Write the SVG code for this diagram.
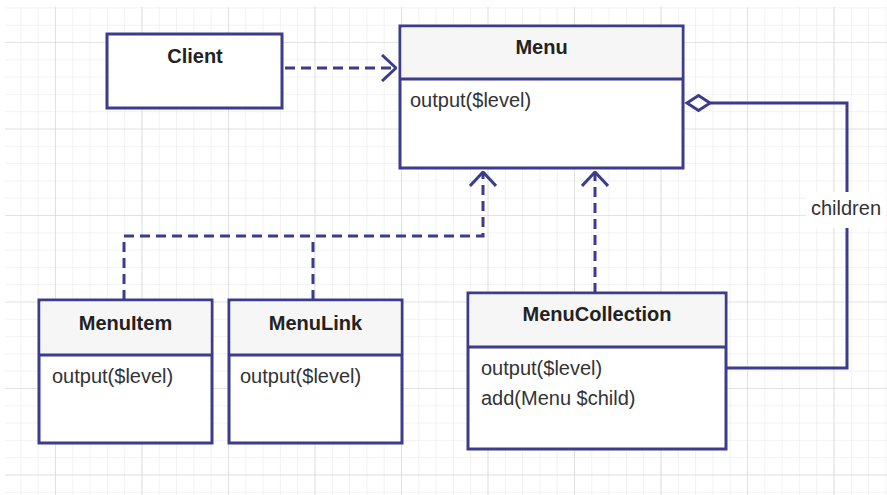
<svg xmlns="http://www.w3.org/2000/svg" width="887" height="495" viewBox="0 0 887 495">
<defs>
<pattern id="minor" x="-31.5" y="-44.5" width="17.3" height="17.3" patternUnits="userSpaceOnUse">
<path d="M0 0H17.3M0 0V17.3" fill="none" stroke="#e6e6e6" stroke-width="1"/>
</pattern>
<pattern id="major" x="-31.5" y="-44.5" width="86.5" height="86.5" patternUnits="userSpaceOnUse">
<path d="M0 0H86.5M0 0V86.5" fill="none" stroke="#d4d4d4" stroke-width="1.2"/>
</pattern>
<marker id="open" viewBox="0 0 16 28" refX="15" refY="14" markerWidth="16" markerHeight="28" markerUnits="userSpaceOnUse" orient="auto">
<path d="M1 1L15 14L1 27" fill="none" stroke="#3d3b8e" stroke-width="3"/>
</marker>
</defs>
<style>
.box{fill:#ffffff;stroke:#3d3b8e;stroke-width:3}
.hdr{fill:#f6f6f6}
.div{stroke:#3d3b8e;stroke-width:3}
.title{font-family:"Liberation Sans",Arial,sans-serif;font-weight:bold;font-size:20px;fill:#222;text-anchor:middle}
.meth{font-family:"Liberation Sans",Arial,sans-serif;font-size:20px;fill:#333}
.dash{fill:none;stroke:#3d3b8e;stroke-width:3;stroke-dasharray:10 6}
.solid{fill:none;stroke:#3d3b8e;stroke-width:3}
</style>
<rect width="887" height="495" fill="#ffffff"/>
<rect x="5" y="7" width="882" height="488" fill="url(#minor)"/>
<rect x="5" y="7" width="882" height="488" fill="url(#major)"/>

<g id="connectors">
<path class="dash" d="M285 68H396" marker-end="url(#open)"/>
<path class="dash" d="M124 300V236H483V172" marker-end="url(#open)"/>
<path class="dash" d="M313 300V236"/>
<path class="dash" d="M595 293V172" marker-end="url(#open)"/>
<path class="solid" d="M710 103H847V368H725"/>
<path d="M687 103L698.5 95.5L710 103L698.5 110.5Z" fill="#ffffff" stroke="#3d3b8e" stroke-width="3"/>
<rect x="806" y="192" width="80" height="36" fill="#ffffff"/>
<text class="meth" x="846" y="215" text-anchor="middle">children</text>
</g>

<g id="client">
<rect class="box" x="107" y="34" width="175" height="74"/>
<text class="title" x="195" y="63">Client</text>
</g>

<g id="menu">
<rect class="box" x="400" y="26" width="283" height="142"/>
<rect class="hdr" x="401.5" y="27.5" width="280" height="51"/>
<line class="div" x1="400" y1="79" x2="683" y2="79"/>
<text class="title" x="541.5" y="54">Menu</text>
<text class="meth" x="410" y="107">output($level)</text>
</g>

<g id="menuitem">
<rect class="box" x="39" y="300" width="173" height="143"/>
<rect class="hdr" x="40.5" y="301.5" width="170" height="53"/>
<line class="div" x1="39" y1="355" x2="212" y2="355"/>
<text class="title" x="125.5" y="330">MenuItem</text>
<text class="meth" x="52" y="383">output($level)</text>
</g>

<g id="menulink">
<rect class="box" x="229" y="300" width="173" height="143"/>
<rect class="hdr" x="230.5" y="301.5" width="170" height="53"/>
<line class="div" x1="229" y1="355" x2="402" y2="355"/>
<text class="title" x="315.5" y="330">MenuLink</text>
<text class="meth" x="240" y="383">output($level)</text>
</g>

<g id="menucollection">
<rect class="box" x="468" y="293" width="258" height="156"/>
<rect class="hdr" x="469.5" y="294.5" width="255" height="52"/>
<line class="div" x1="468" y1="347" x2="726" y2="347"/>
<text class="title" x="597" y="321">MenuCollection</text>
<text class="meth" x="481" y="375">output($level)</text>
<text class="meth" x="481" y="405">add(Menu $child)</text>
</g>
</svg>
